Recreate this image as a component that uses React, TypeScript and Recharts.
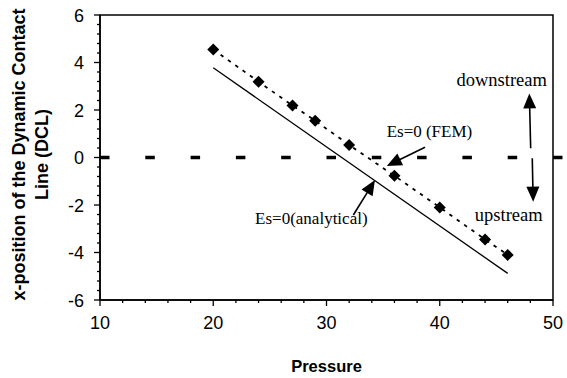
import React from 'react';
import { ComposedChart, Line, XAxis, YAxis, ReferenceLine, ReferenceArea, ReferenceDot } from 'recharts';

// FEM results (diamonds, dotted line)
const femPressure = [20, 24, 27, 29, 32, 36, 40, 44, 46];
const femPosition = [4.55, 3.19, 2.19, 1.55, 0.53, -0.77, -2.1, -3.45, -4.1];

// analytical result (solid line)
const analyticalPressure = [20, 46];
const analyticalPosition = [3.78, -4.88];

const xMajorTicks = [10, 20, 30, 40, 50];
const yMajorTicks = [-6, -4, -2, 0, 2, 4, 6];
const xMinorStep = 2;
const yMinorStep = 0.4;

// annotations, anchored in data units
const noteTexts = ['downstream', 'Es=0 (FEM)', 'upstream', 'Es=0(analytical)'];
const notePressure = [45.47, 39.09, 46.09, 28.66];
const notePosition = [3.01, 0.86, -2.66, -2.8];
const noteFontSizes = [18.5, 17, 18.5, 17];

const arrowFromPressure = [38.7, 32.37, 48.03, 48.17];
const arrowFromPosition = [0.43, -2.42, 0.39, -0.03];
const arrowToPressure = [35.32, 34.28, 47.91, 48.25];
const arrowToPosition = [-0.36, -0.95, 2.7, -1.86];

const femData = femPressure.map((x, i) => ({ x, y: femPosition[i] }));
const analyticalData = analyticalPressure.map((x, i) => ({ x, y: analyticalPosition[i] }));

const makeTicks = (lo: number, hi: number, step: number) => {
  const out: number[] = [];
  const n = Math.round((hi - lo) / step);
  for (let i = 0; i <= n; i++) out.push(Math.round((lo + i * step) * 100) / 100);
  return out;
};
const xTicks = makeTicks(xMajorTicks[0], xMajorTicks[xMajorTicks.length - 1], xMinorStep);
const yTicks = makeTicks(yMajorTicks[0], yMajorTicks[yMajorTicks.length - 1], yMinorStep);

const isMajor = (v: number, majors: number[]) => majors.some((m) => Math.abs(m - v) < 1e-6);

const SANS = '"Liberation Sans", Arial, sans-serif';
const SERIF = '"Liberation Serif", "Times New Roman", serif';

const XTick = (props: any) => {
  const { x, y, payload } = props;
  const major = isMajor(payload.value, xMajorTicks);
  return (
    <g>
      <line x1={x} y1={y} x2={x} y2={y + (major ? 6 : 3)} stroke="#000" strokeWidth={1.3} />
      {major && (
        <text x={x} y={y + 29} textAnchor="middle" fontSize={18} fontFamily={SANS} fill="#000">
          {payload.value}
        </text>
      )}
    </g>
  );
};

const YTick = (props: any) => {
  const { x, y, payload } = props;
  const major = isMajor(payload.value, yMajorTicks);
  return (
    <g>
      <line x1={x - (major ? 6 : 3)} y1={y} x2={x} y2={y} stroke="#000" strokeWidth={1.3} />
      {major && (
        <text x={x - 16} y={y + 6.5} textAnchor="end" fontSize={18} fontFamily={SANS} fill="#000">
          {payload.value}
        </text>
      )}
    </g>
  );
};

const YLabel = (props: any) => {
  const { viewBox } = props;
  const cy = viewBox.y + viewBox.height / 2 - 3;
  return (
    <text transform={`rotate(-90 25 ${cy})`} x={25} y={cy} textAnchor="middle" fontSize={18} fontWeight="bold" fontFamily={SANS} fill="#000">
      <tspan x={25} dy={0}>x-position of the Dynamic Contact</tspan>
      <tspan x={25} dy={23}>Line (DCL)</tspan>
    </text>
  );
};

const XLabel = (props: any) => {
  const { viewBox } = props;
  return (
    <text x={viewBox.x + viewBox.width / 2} y={viewBox.y + 72} textAnchor="middle" fontSize={16.5} fontWeight="bold" fontFamily={SANS} fill="#000">
      Pressure
    </text>
  );
};

const Diamond = (props: any) => {
  const { cx, cy, index } = props;
  if (cx == null || cy == null) return <g key={index} />;
  const r = 6;
  return <polygon key={index} points={`${cx},${cy - r} ${cx + r},${cy} ${cx},${cy + r} ${cx - r},${cy}`} fill="#000" />;
};

const Arrow = (props: any) => {
  const { x1, y1, x2, y2 } = props;
  const dx = x2 - x1;
  const dy = y2 - y1;
  const len = Math.hypot(dx, dy) || 1;
  const ux = dx / len;
  const uy = dy / len;
  const hl = 15;
  const hw = 6.5;
  const bx = x2 - ux * hl;
  const by = y2 - uy * hl;
  return (
    <g>
      <line x1={x1} y1={y1} x2={bx + ux * 2} y2={by + uy * 2} stroke="#000" strokeWidth={1.6} />
      <polygon points={`${x2},${y2} ${bx - uy * hw},${by + ux * hw} ${bx + uy * hw},${by - ux * hw}`} fill="#000" />
    </g>
  );
};

const ZeroLine = (props: any) => {
  const { x1, y1, x2, y2 } = props;
  return <line x1={x1} y1={y1} x2={x2 + 14} y2={y2} stroke="#000" strokeWidth={3.5} strokeDasharray="9.5 35.8" />;
};

const App = () => {
  return (
    <div style={{ position: 'absolute', left: 0, top: 0, background: '#fff' }}>
      <ComposedChart width={567} height={378} margin={{ top: 15, right: 14, bottom: 0, left: 0 }}>
        <XAxis
          type="number"
          dataKey="x"
          domain={[10, 50]}
          ticks={xTicks}
          interval={0}
          tickSize={0}
          tickMargin={0}
          tick={<XTick />}
          axisLine={{ stroke: '#000', strokeWidth: 1.5 }}
          height={78}
          label={{ content: <XLabel /> }}
        />
        <YAxis
          type="number"
          domain={[-6, 6]}
          ticks={yTicks}
          interval={0}
          tickSize={0}
          tickMargin={0}
          tick={<YTick />}
          axisLine={{ stroke: '#000', strokeWidth: 1.5 }}
          width={100}
          label={{ content: <YLabel /> }}
        />
        <ReferenceArea x1={10} x2={50} y1={-6} y2={6} fill="none" stroke="#000" strokeWidth={1.5} />
        <ReferenceLine y={0} shape={<ZeroLine />} />
        <Line
          data={analyticalData}
          dataKey="y"
          type="linear"
          stroke="#000"
          strokeWidth={1.3}
          dot={false}
          activeDot={false}
          isAnimationActive={false}
        />
        <Line
          data={femData}
          dataKey="y"
          type="linear"
          stroke="#000"
          strokeWidth={1.8}
          strokeDasharray="3.5 5.5"
          dot={<Diamond />}
          activeDot={false}
          isAnimationActive={false}
        />
        {noteTexts.map((t, i) => (
          <ReferenceDot
            key={`note-${i}`}
            x={notePressure[i]}
            y={notePosition[i]}
            r={0}
            shape={(p: any) => (
              <text x={p.cx} y={p.cy} textAnchor="middle" fontSize={noteFontSizes[i]} fontFamily={SERIF} fill="#000">
                {t}
              </text>
            )}
          />
        ))}
        {arrowFromPressure.map((_, i) => (
          <ReferenceLine
            key={`arrow-${i}`}
            segment={[
              { x: arrowFromPressure[i], y: arrowFromPosition[i] },
              { x: arrowToPressure[i], y: arrowToPosition[i] },
            ]}
            shape={<Arrow />}
          />
        ))}
      </ComposedChart>
    </div>
  );
};

export default App;
